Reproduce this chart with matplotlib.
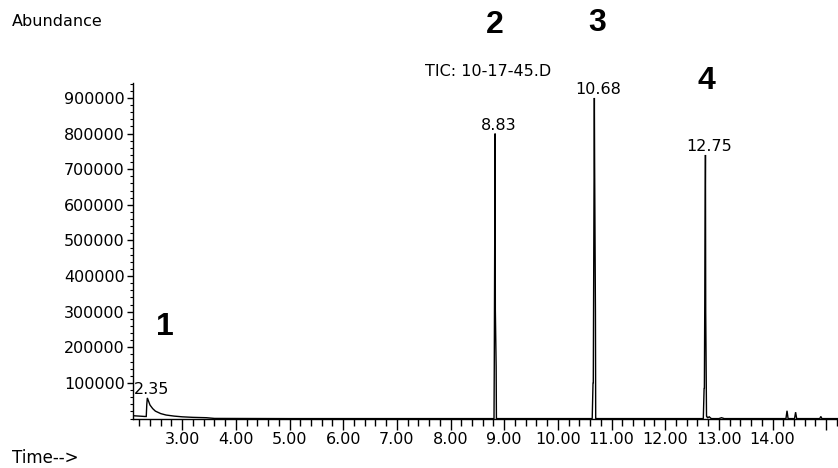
import matplotlib
matplotlib.use("Agg")
import matplotlib.pyplot as plt
from matplotlib.ticker import FixedLocator, MultipleLocator, FuncFormatter

# TIC trace (time in min, abundance in counts)
trace_time = [2.09, 2.20, 2.30, 2.33, 2.34, 2.35, 2.40, 2.45, 2.50, 2.60, 2.70,
              2.85, 3.00, 3.20, 3.45, 3.60, 5.00, 7.00,
              8.79, 8.81, 8.815, 8.83, 8.835, 8.85, 8.855, 8.87,
              9.50, 10.64, 10.655, 10.66, 10.68, 10.685, 10.70, 10.705, 10.72,
              11.50, 12.71, 12.725, 12.73, 12.75, 12.755, 12.77, 12.775,
              12.79, 12.82, 12.86, 13.00, 13.05, 13.10,
              14.00, 14.25, 14.27, 14.29, 14.41, 14.43, 14.45,
              14.88, 14.90, 14.92, 15.22]
trace_abund = [8000, 7000, 6000, 6000, 40000, 58000, 38000, 28000, 21000, 14000, 10000,
               7000, 5000, 3500, 2500, 500, 0, 0,
               0, 0, 145000, 800000, 305000, 145000, 0, 0,
               0, 0, 100000, 100000, 900000, 712000, 300000, 0, 0,
               0, 0, 85000, 85000, 740000, 300000, 6000, 6000,
               2000, 5000, 0, 0, 2500, 0,
               0, 0, 22000, 0, 0, 18000, 0,
               0, 6000, 0, 0]

# labelled peaks
peak_times = [2.35, 8.83, 10.68, 12.75]
peak_heights = [58000, 800000, 900000, 740000]

W, H = 838, 468
fig = plt.figure(figsize=(W / 100, H / 100), dpi=100)
ax = fig.add_axes([133 / W, 1 - 418.6 / H, (W - 133) / W, (418.6 - 83) / H])

ax.plot(trace_time, trace_abund, color="black", lw=1.0, solid_joinstyle="miter")

ax.set_xlim(2.083, 15.22)
ax.set_ylim(0, 942000)

for s in ["top", "right"]:
    ax.spines[s].set_visible(False)
for s in ["left", "bottom"]:
    ax.spines[s].set_linewidth(1.0)

ax.xaxis.set_major_locator(FixedLocator(list(range(3, 16))))
ax.xaxis.set_minor_locator(MultipleLocator(0.2))
ax.xaxis.set_major_formatter(FuncFormatter(lambda v, p: "%.2f" % v if v < 14.5 else ""))
ax.yaxis.set_major_locator(FixedLocator(list(range(100000, 1000000, 100000))))
ax.yaxis.set_minor_locator(MultipleLocator(20000))
ax.yaxis.set_major_formatter(FuncFormatter(lambda v, p: "%d" % v))

ax.tick_params(axis="x", which="major", length=8, width=1, pad=2, labelsize=11.5)
ax.tick_params(axis="x", which="minor", length=5, width=1)
ax.tick_params(axis="y", which="major", length=4, width=1, pad=2, labelsize=11.5)
ax.tick_params(axis="y", which="minor", length=2, width=0.8)

# retention time labels above each apex
for t, h in zip(peak_times, peak_heights):
    ax.annotate("%.2f" % t, (t, h), xytext=(4, 4), textcoords="offset pixels",
                ha="center", va="baseline", fontsize=11.5)

fig.text(12 / W, 1 - 22 / H, "Abundance", fontsize=11.5, va="center", ha="left")
fig.text(12 / W, 1 - 458 / H, "Time-->", fontsize=12, va="center", ha="left")
fig.text(488 / W, 1 - 72 / H, "TIC: 10-17-45.D", fontsize=11.5, va="center", ha="center")

# peak numbers
num_font = dict(family=["Liberation Sans", "DejaVu Sans"], fontweight="bold",
                fontsize=23, ha="center", va="center")
fig.text(165 / W, 1 - 327 / H, "1", **num_font)
fig.text(495 / W, 1 - 25 / H, "2", **num_font)
fig.text(597 / W, 1 - 23 / H, "3", **num_font)
fig.text(706 / W, 1 - 81 / H, "4", **num_font)

fig.savefig("out.png", dpi=100)
